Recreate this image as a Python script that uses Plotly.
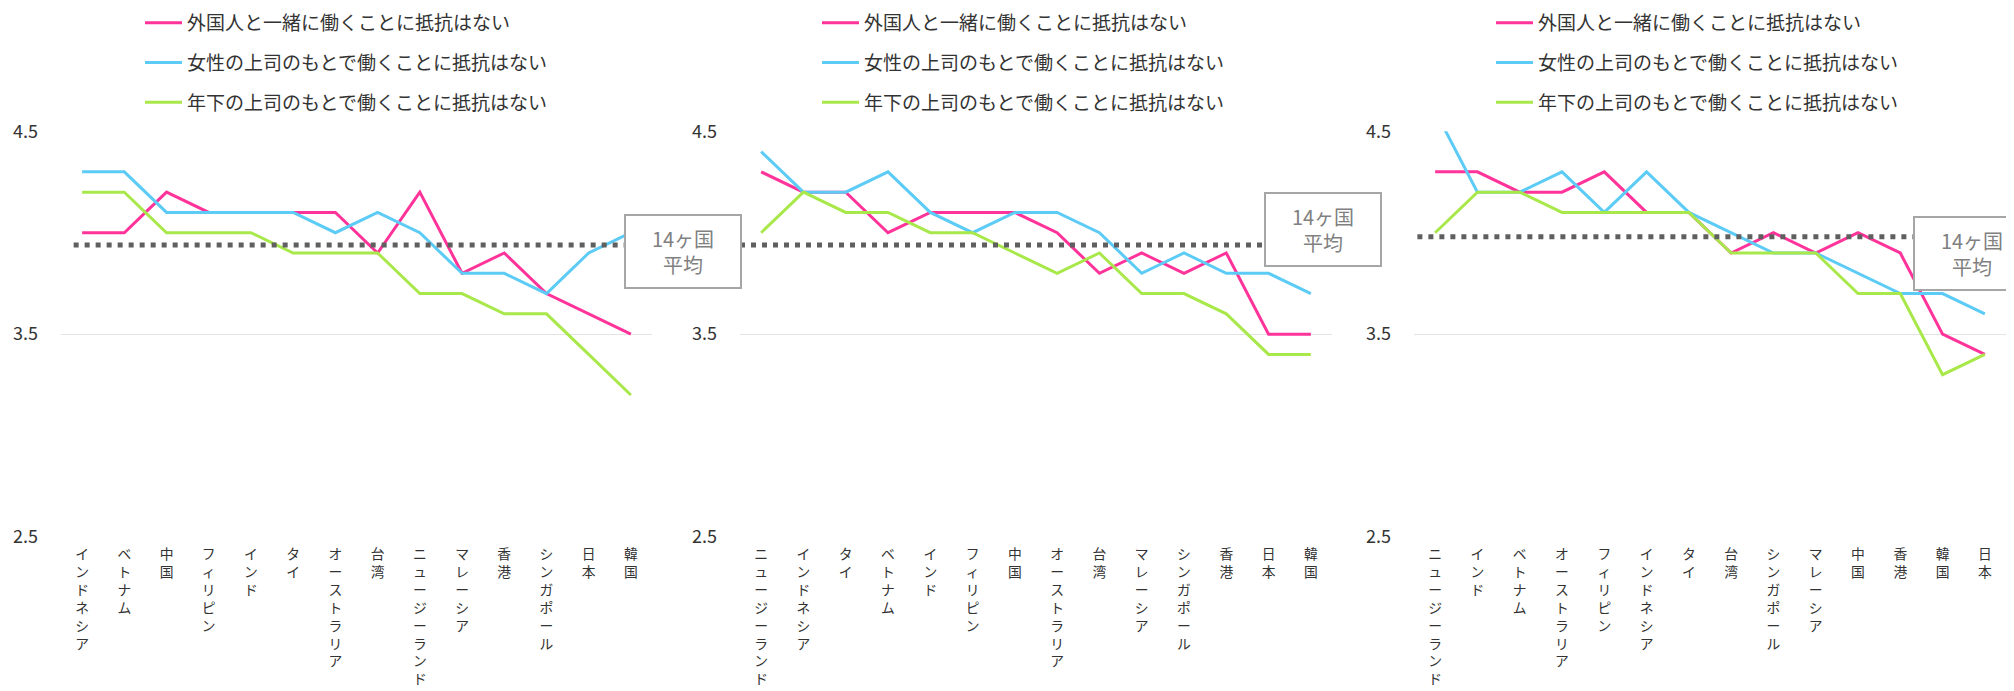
import plotly.graph_objects as go

# page is drawn with an 8px body margin, so the figure is 8px smaller
OFF = 8
W, H = 2014 - OFF, 691 - OFF

series_names = ["外国人と一緒に働くことに抵抗はない",
                "女性の上司のもとで働くことに抵抗はない",
                "年下の上司のもとで働くことに抵抗はない"]
avg_label = "14ヶ国<br>平均"

cats1 = ["インドネシア", "ベトナム", "中国", "フィリピン", "インド", "タイ", "オーストラリア",
         "台湾", "ニュージーランド", "マレーシア", "香港", "シンガポール", "日本", "韓国"]
foreign1 = [4.0, 4.0, 4.2, 4.1, 4.1, 4.1, 4.1, 3.9, 4.2, 3.8, 3.9, 3.7, 3.6, 3.5]
female1 = [4.3, 4.3, 4.1, 4.1, 4.1, 4.1, 4.0, 4.1, 4.0, 3.8, 3.8, 3.7, 3.9, 4.0]
younger1 = [4.2, 4.2, 4.0, 4.0, 4.0, 3.9, 3.9, 3.9, 3.7, 3.7, 3.6, 3.6, 3.4, 3.2]
avg1 = 3.94

cats2 = ["ニュージーランド", "インドネシア", "タイ", "ベトナム", "インド", "フィリピン", "中国",
         "オーストラリア", "台湾", "マレーシア", "シンガポール", "香港", "日本", "韓国"]
foreign2 = [4.3, 4.2, 4.2, 4.0, 4.1, 4.1, 4.1, 4.0, 3.8, 3.9, 3.8, 3.9, 3.5, 3.5]
female2 = [4.4, 4.2, 4.2, 4.3, 4.1, 4.0, 4.1, 4.1, 4.0, 3.8, 3.9, 3.8, 3.8, 3.7]
younger2 = [4.0, 4.2, 4.1, 4.1, 4.0, 4.0, 3.9, 3.8, 3.9, 3.7, 3.7, 3.6, 3.4, 3.4]
avg2 = 3.94

cats3 = ["ニュージーランド", "インド", "ベトナム", "オーストラリア", "フィリピン", "インドネシア", "タイ",
         "台湾", "シンガポール", "マレーシア", "中国", "香港", "韓国", "日本"]
foreign3 = [4.3, 4.3, 4.2, 4.2, 4.3, 4.1, 4.1, 3.9, 4.0, 3.9, 4.0, 3.9, 3.5, 3.4]
female3 = [4.6, 4.2, 4.2, 4.3, 4.1, 4.3, 4.1, 4.0, 3.9, 3.9, 3.8, 3.7, 3.7, 3.6]
younger3 = [4.0, 4.2, 4.2, 4.1, 4.1, 4.1, 4.1, 3.9, 3.9, 3.9, 3.7, 3.7, 3.3, 3.4]
avg3 = 3.98

colors = ["#FF3399", "#5CCBF5", "#A8E84A"]
FONT = "Noto Sans CJK JP, Noto Sans, sans-serif"

panels = [
    (cats1, [foreign1, female1, younger1], avg1),
    (cats2, [foreign2, female2, younger2], avg2),
    (cats3, [foreign3, female3, younger3], avg3),
]

x_domains = [(61, 652), (740, 1332), (1414, 2006)]
legend_x = [140, 817, 1491]
avg_start = [-0.2, -0.5, -0.42]
box_centers = [(683, 251.5), (1323, 229), (1972, 253)]
y_top, y_bot = 131.3, 537


def px(x):
    return (x - OFF) / W


def py(y):
    return 1 - (y - OFF) / H


def vertical(s):
    return "<br>".join(list(s))


fig = go.Figure()
layout = dict(
    width=W, height=H,
    margin=dict(l=0, r=0, t=0, b=0, autoexpand=False),
    paper_bgcolor="white", plot_bgcolor="white",
    font=dict(family=FONT, color="#333333"),
    shapes=[], annotations=[],
)

for i, (cats, vals, avg) in enumerate(panels):
    sfx = "" if i == 0 else str(i + 1)
    leg = "legend" if i == 0 else f"legend{i + 1}"
    for j, v in enumerate(vals):
        fig.add_trace(go.Scatter(
            x=cats, y=v, mode="lines", name=series_names[j],
            line=dict(color=colors[j], width=3),
            xaxis="x" + sfx, yaxis="y" + sfx,
            legend=leg, legendgroup=f"g{i}{j}",
            hoverinfo="skip",
        ))
    layout["xaxis" + sfx] = dict(
        domain=[px(x_domains[i][0]), px(x_domains[i][1])],
        anchor="y" + sfx, type="category",
        range=[-0.5, len(cats) - 0.5],
        tickmode="array", tickvals=cats, ticktext=[vertical(c) for c in cats],
        tickfont=dict(size=13.8, color="#333333"),
        showgrid=False, zeroline=False, showline=False, ticks="",
        ticklabelstandoff=7, automargin=False,
    )
    layout["yaxis" + sfx] = dict(
        domain=[py(y_bot), py(y_top)], anchor="x" + sfx,
        range=[2.5, 4.5], tick0=2.5, dtick=1, tickformat=".1f",
        showgrid=True, gridcolor="#E3E3E3", gridwidth=1,
        zeroline=False, showline=False, ticks="",
        tickfont=dict(size=18, color="#333333"),
        ticklabelstandoff=22, automargin=False,
    )
    layout[leg] = dict(
        x=px(legend_x[i]), y=1.0 + 4 / H, xanchor="left", yanchor="top",
        orientation="v", bgcolor="rgba(0,0,0,0)",
        font=dict(size=19, color="#333333", family=FONT),
        tracegroupgap=12, itemwidth=37,
    )
    layout["shapes"].append(dict(
        type="line", xref="x" + sfx, yref="y" + sfx,
        x0=avg_start[i], x1=len(cats) - 0.5, y0=avg, y1=avg,
        line=dict(color="#5F5F5F", width=5, dash="5px,6px"),
    ))
    cx, cy = box_centers[i]
    layout["annotations"].append(dict(
        xref="paper", yref="paper", x=px(cx), y=py(cy),
        xanchor="center", yanchor="middle",
        text=avg_label, showarrow=False,
        font=dict(size=20, color="#808080", family=FONT),
        bgcolor="white", bordercolor="#A6A6A6", borderwidth=2, borderpad=1,
        width=112, height=69,
    ))

fig.update_layout(**layout)
fig.write_html("out.html")
